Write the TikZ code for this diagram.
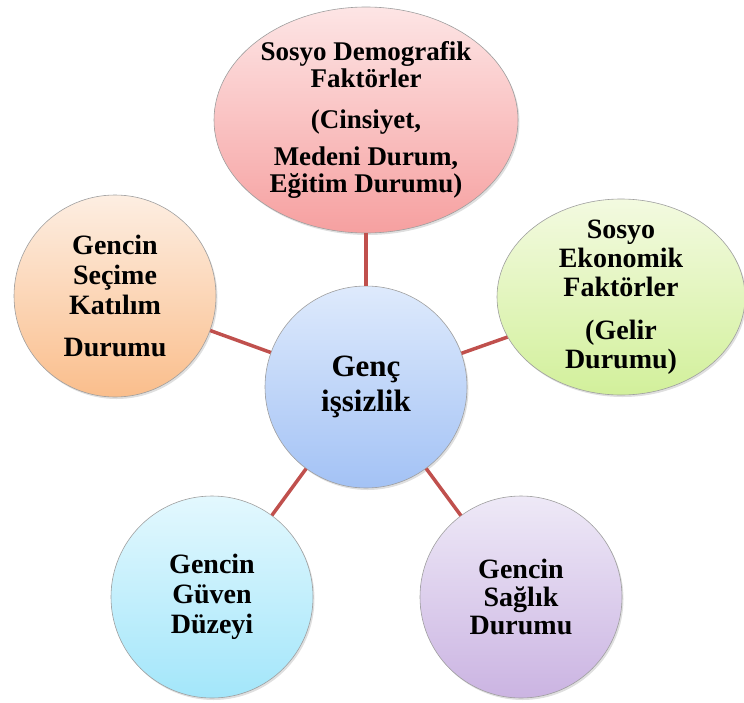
\documentclass[tikz,border=0pt]{standalone}
\usepackage{fontspec}
\setmainfont{Liberation Serif}
\usepackage{tikz}
\usetikzlibrary{shapes,shadows}

\definecolor{linkred}{RGB}{192,80,77}

\begin{document}
\begin{tikzpicture}[x=1pt, y=-1pt,
        bubble/.style={circle, draw=gray!75, line width=0.6pt, minimum size=202pt, inner sep=0pt, align=center,
            font=\bfseries\fontsize{28}{30}\selectfont,
            drop shadow={opacity=0.25, shadow xshift=1.5pt, shadow yshift=-2pt}},
        oval/.style={bubble, ellipse, inner xsep=0pt, inner ysep=-12pt},
        link/.style={draw=linkred, line width=3.5pt}]
                \useasboundingbox (0,0) rectangle (744,702);
                \node[oval, minimum width=304pt, minimum height=226pt, top color={rgb,255:red,253;green,229;blue,229}, bottom color={rgb,255:red,246;green,160;blue,160}, font=\bfseries\fontsize{27}{27}\selectfont] (demo) at (366,120) {Sosyo Demografik\\Faktörler\\[14pt](Cinsiyet,\\[10pt]Medeni Durum,\\Eğitim Durumu)};
                \node[bubble, top color={rgb,255:red,222;green,234;blue,252}, bottom color={rgb,255:red,163;green,194;blue,245}, font=\bfseries\fontsize{31}{35}\selectfont] (hub) at (366,387) {Genç\\işsizlik};
                \node[bubble, top color={rgb,255:red,253;green,238;blue,226}, bottom color={rgb,255:red,250;green,190;blue,140}] (vote) at (115,296) {Gencin\\Seçime\\Katılım\\[12pt]Durumu};
                \node[oval, minimum width=248pt, minimum height=196pt, top color={rgb,255:red,243;green,250;blue,224}, bottom color={rgb,255:red,210;green,240;blue,155}, font=\bfseries\fontsize{28}{29}\selectfont] (econ) at (621,297) {Sosyo\\Ekonomik\\Faktörler\\[14pt](Gelir\\Durumu)};
                \node[bubble, top color={rgb,255:red,227;green,248;blue,254}, bottom color={rgb,255:red,163;green,230;blue,250}] (trust) at (212,597) {Gencin\\Güven\\Düzeyi};
                \node[bubble, top color={rgb,255:red,238;green,233;blue,247}, bottom color={rgb,255:red,203;green,180;blue,226}, font=\bfseries\fontsize{28}{28}\selectfont] (health) at (521,597) {Gencin\\Sağlık\\Durumu};
                \draw[link] (hub) -- (demo);
                \draw[link] (hub) -- (vote);
                \draw[link] (hub) -- (econ);
                \draw[link] (hub) -- (trust);
                \draw[link] (hub) -- (health);
            \end{tikzpicture}
\end{document}
